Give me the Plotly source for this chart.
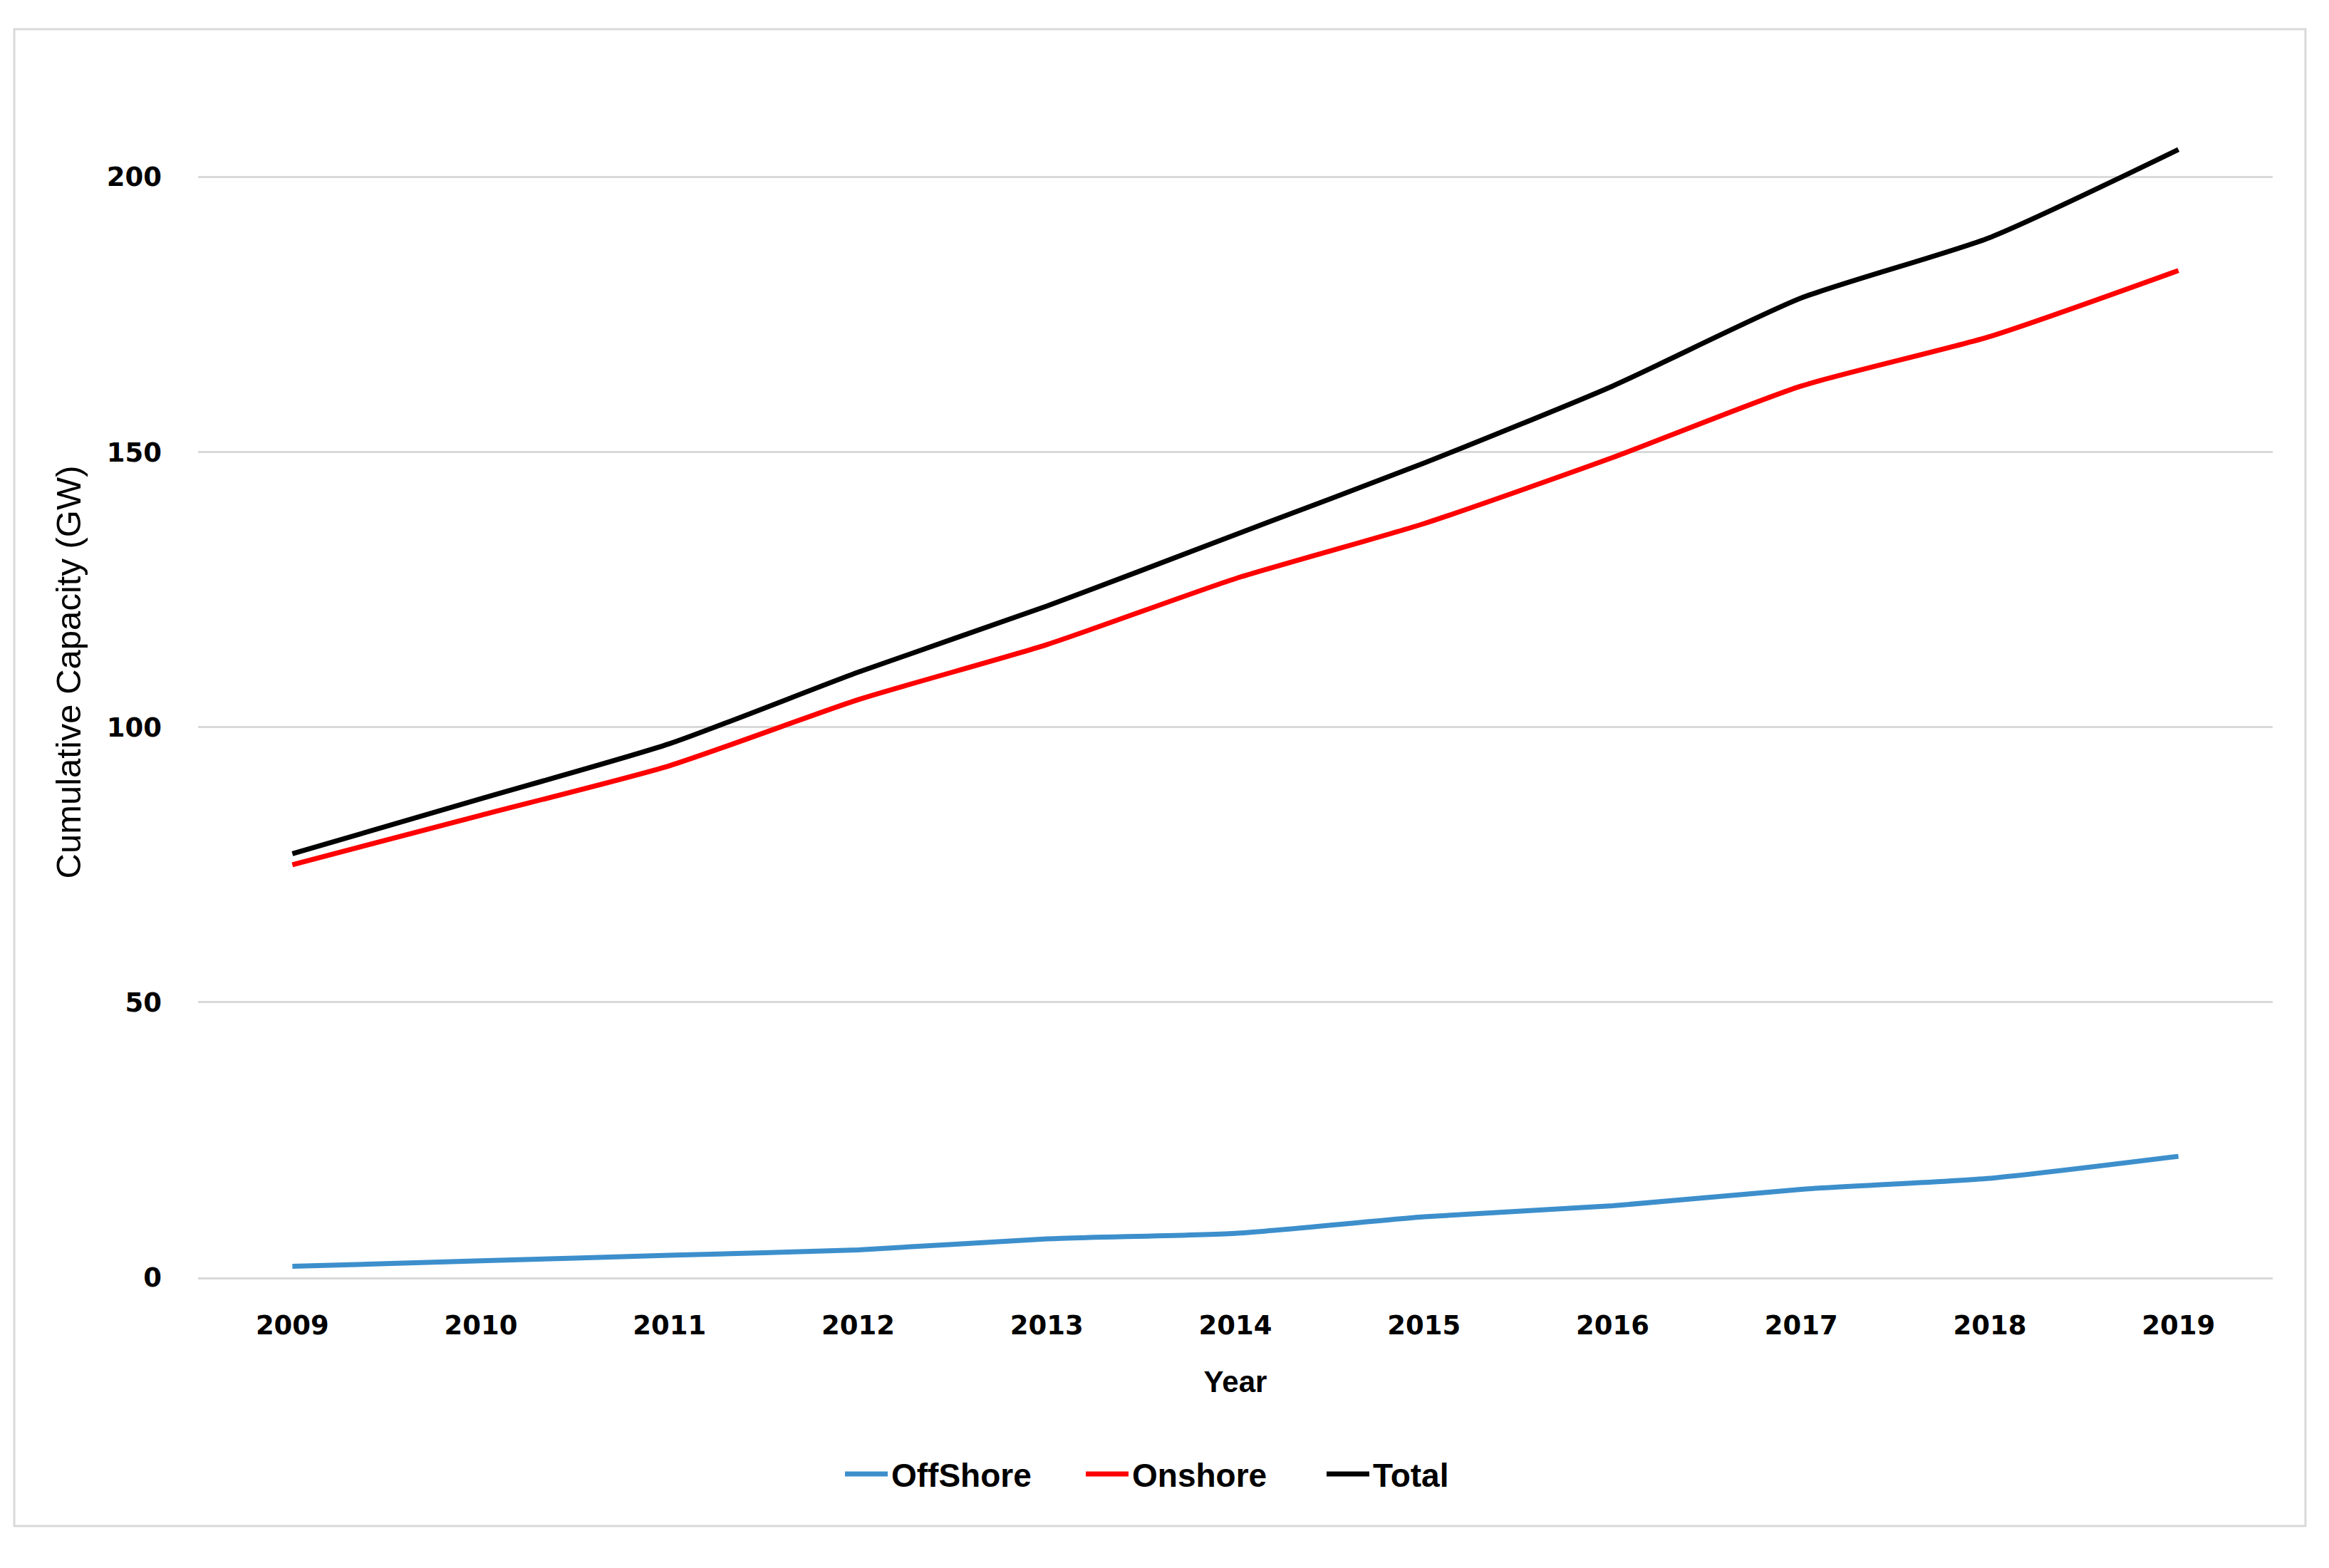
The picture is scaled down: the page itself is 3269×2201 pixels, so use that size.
import plotly.graph_objects as go

years = ["2009", "2010", "2011", "2012", "2013", "2014", "2015", "2016", "2017", "2018", "2019"]
offshore = [2, 3, 4, 5, 7, 8, 11, 13, 16, 18, 22]
onshore = [75, 84, 93, 105, 115, 127, 137, 149, 162, 171, 183]
total = [77, 87, 97, 110, 122, 135, 148, 162, 178, 189, 205]
y_ticks = [0, 50, 100, 150, 200]

series = [
    ("OffShore", offshore, "#3d8fcc"),
    ("Onshore", onshore, "#ff0000"),
    ("Total", total, "#000000"),
]

fig = go.Figure()
for name, vals, color in series:
    fig.add_trace(go.Scatter(
        x=years, y=vals, name=name, mode="lines",
        line=dict(color=color, width=7, shape="spline", smoothing=0.6),
    ))

W, H = 3269, 2201
OFF = 7  # page offset
L, R, T, B = 277 - OFF, 80 + OFF, 93 - OFF, 409 + OFF

fig.update_layout(
    width=W, height=H,
    margin=dict(l=L, r=R, t=T, b=B, autoexpand=False),
    paper_bgcolor="white", plot_bgcolor="white",
    showlegend=True,
    legend=dict(
        orientation="h", xref="container", yref="container",
        x=(1192 - OFF - 12) / W, xanchor="left", y=1 - (2068 - OFF) / H, yanchor="middle",
        font=dict(family="Liberation Sans Narrow, Arial Narrow, Liberation Sans", size=46, color="black", weight="bold"),
        entrywidth=263, itemwidth=60, tracegroupgap=0,
    ),
    xaxis=dict(
        type="category", range=[-0.5, 10.5],
        showgrid=False, showline=True, linecolor="#d9d9d9", linewidth=3,
        ticks="", ticklabelstandoff=33,
        tickfont=dict(family="DejaVu Sans", size=37, color="black", weight="bold"),
        title=dict(text="Year", standoff=44,
                   font=dict(family="Liberation Sans", size=42, color="black", weight="bold")),
        zeroline=False,
    ),
    yaxis=dict(
        range=[0, 220], tickvals=y_ticks,
        showgrid=True, gridcolor="#d9d9d9", gridwidth=3,
        zeroline=False, showline=False,
        ticks="", ticklabelstandoff=50,
        tickfont=dict(family="DejaVu Sans", size=37, color="black", weight="bold"),
        title=dict(text="Cumulative Capacity (GW)", standoff=20,
                   font=dict(family="Liberation Sans", size=49, color="black")),
    ),
)

# outer chart border
pw, ph = W - L - R, H - T - B
fig.add_shape(
    type="rect", xref="paper", yref="paper",
    x0=(19 - OFF - L) / pw, x1=(3235 - OFF - L) / pw,
    y0=((H - B) - (2141 - OFF)) / ph, y1=((H - B) - (40 - OFF)) / ph,
    line=dict(color="#d9d9d9", width=3), fillcolor="rgba(0,0,0,0)", layer="below",
)

fig.write_html("out.html")
